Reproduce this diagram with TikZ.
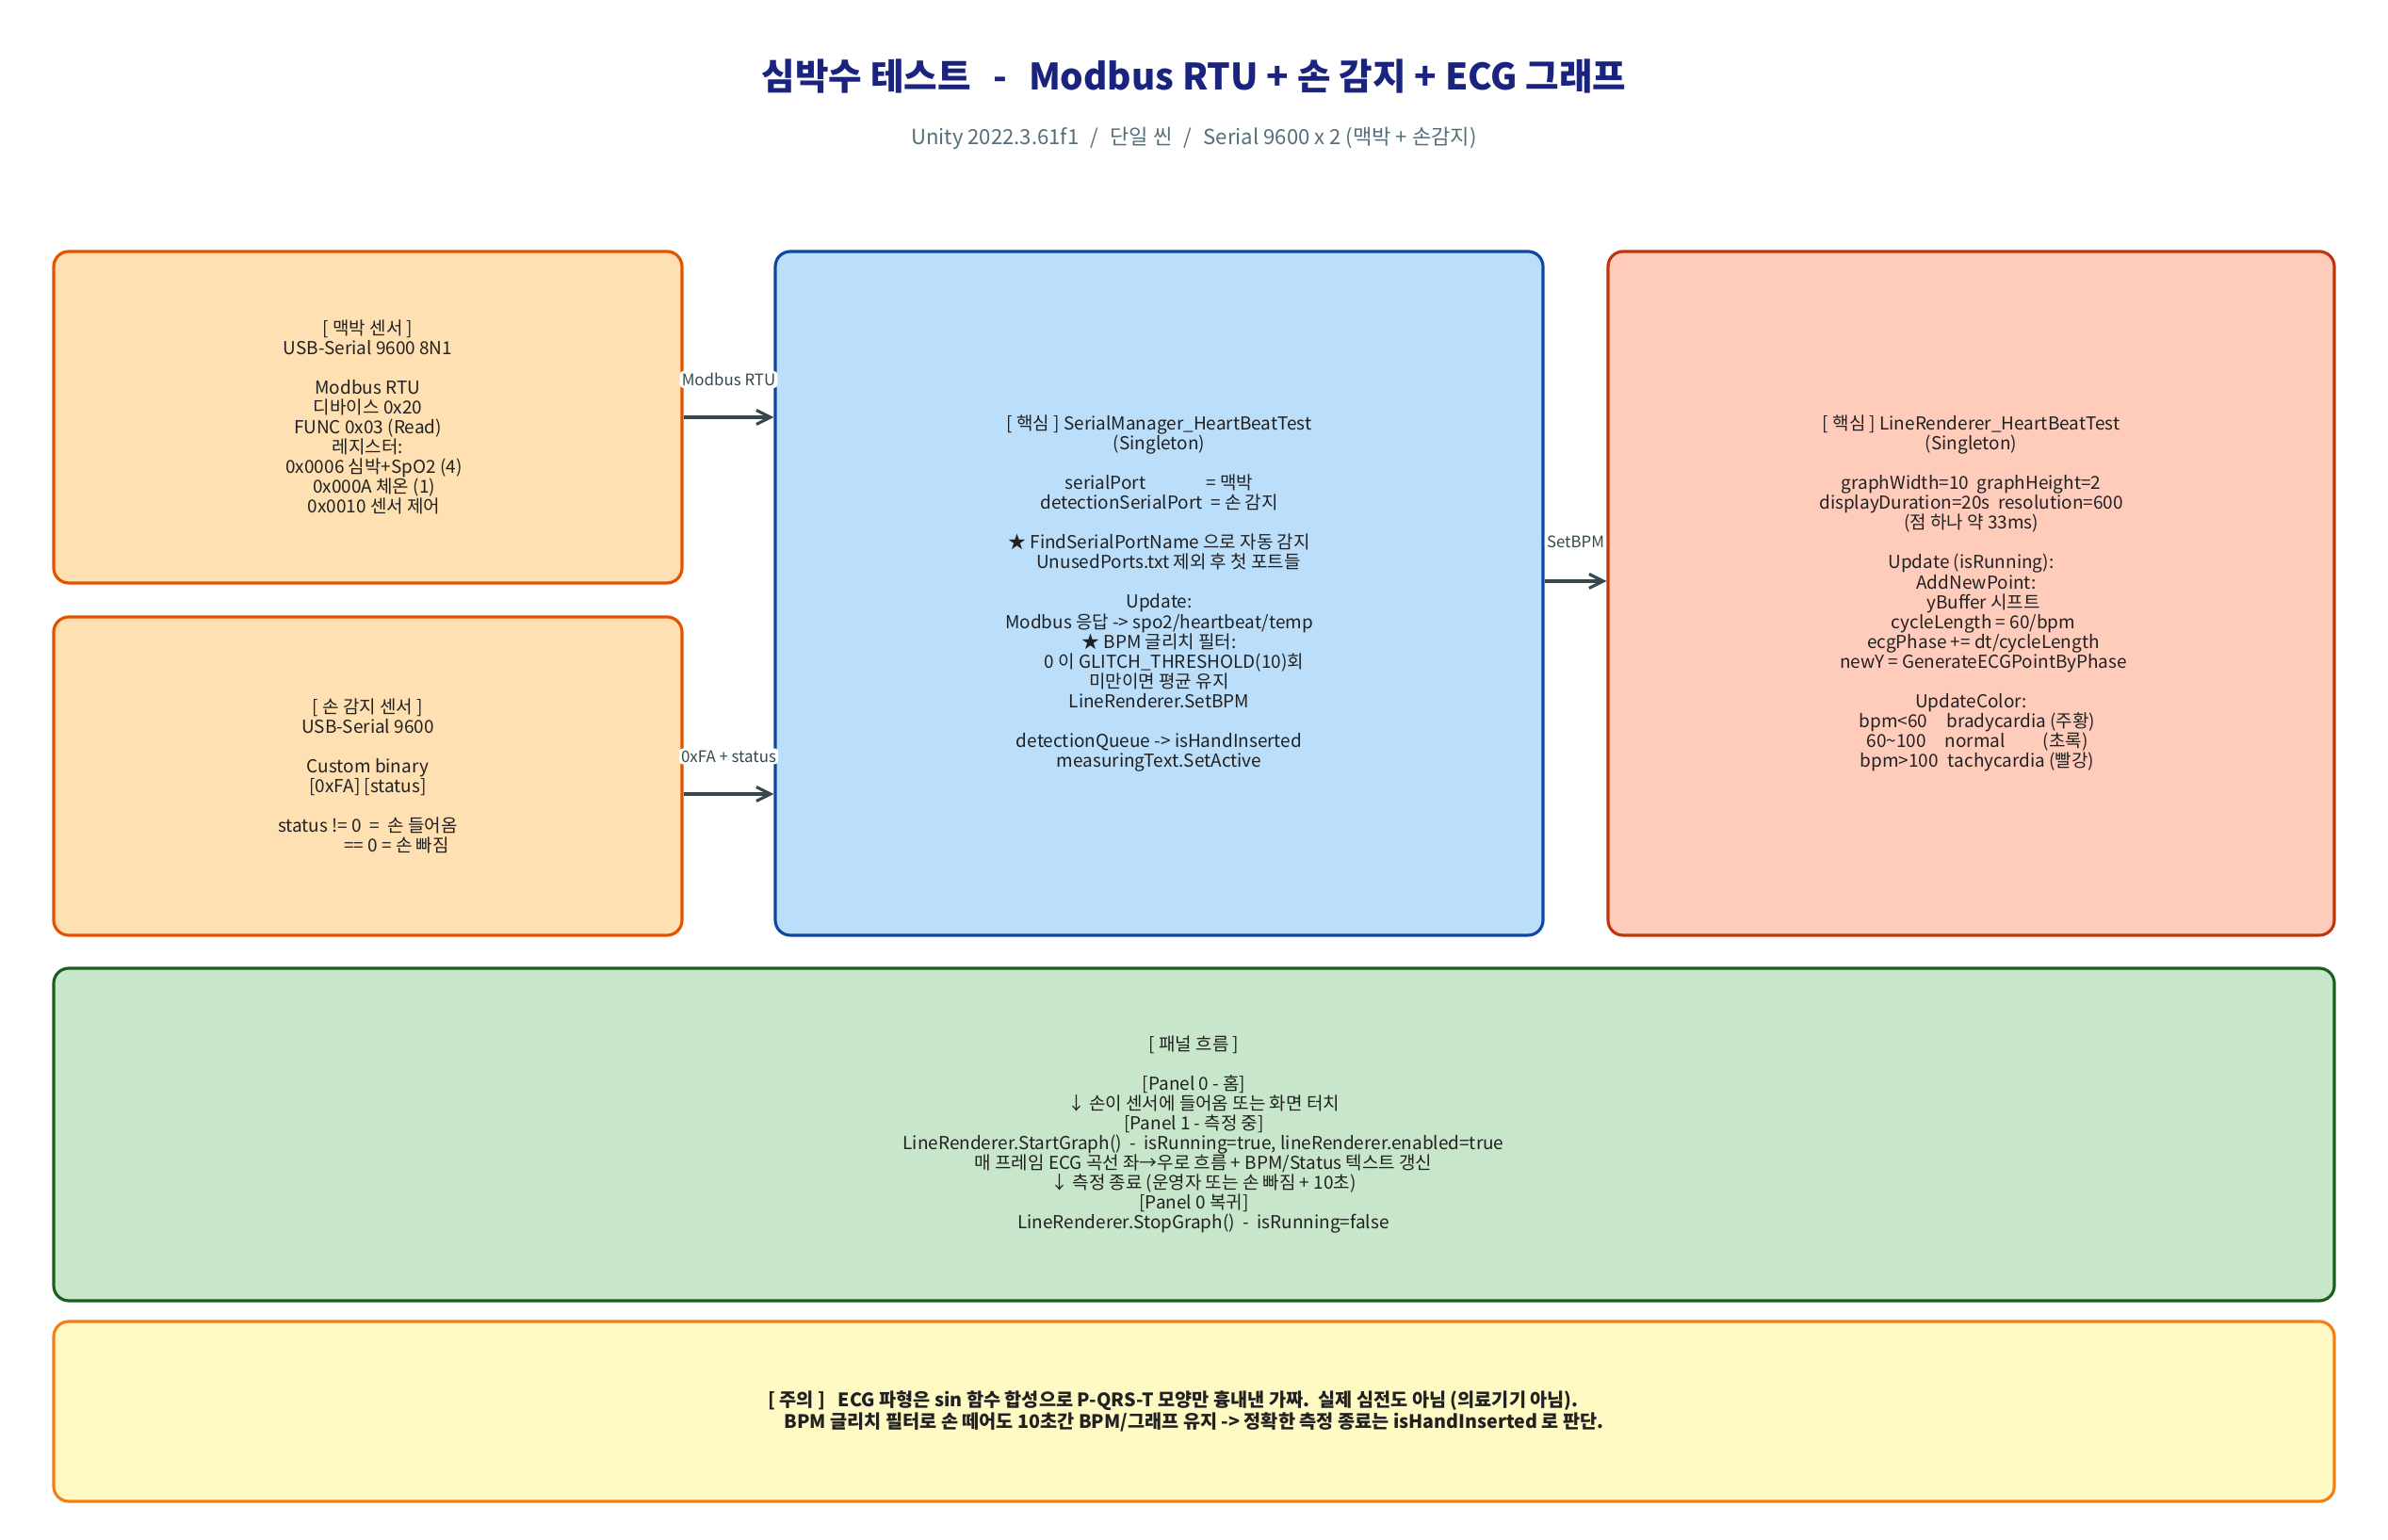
\documentclass[tikz,border=0pt]{standalone}
\usepackage{fontspec}
\setmainfont{Noto Sans CJK KR}
\usetikzlibrary{arrows.meta, positioning}

\definecolor{titleblue}{HTML}{1A237E}
\definecolor{subgray}{HTML}{546E7A}
\definecolor{textdark}{HTML}{212121}
\definecolor{arrowgray}{HTML}{37474F}
\definecolor{sensorfill}{HTML}{FFE0B2}
\definecolor{sensordraw}{HTML}{E65100}
\definecolor{corefill}{HTML}{BBDEFB}
\definecolor{coredraw}{HTML}{0D47A1}
\definecolor{graphfill}{HTML}{FFCCBC}
\definecolor{graphdraw}{HTML}{BF360C}
\definecolor{flowfill}{HTML}{C8E6C9}
\definecolor{flowdraw}{HTML}{1B5E20}
\definecolor{notefill}{HTML}{FFF9C4}
\definecolor{notedraw}{HTML}{F57F17}

\tikzset{>={Straight Barb[length=1.5mm,width=1.5mm]}}
\tikzset{font=\fontsize{5.4}{6}\selectfont}
\tikzset{
  panel/.style={draw, rounded corners=0.16cm, line width=0.9pt,
    align=center, text=textdark, inner sep=0pt},
  sensorbox/.style={panel, fill=sensorfill, draw=sensordraw},
  corebox/.style={panel, fill=corefill, draw=coredraw},
  graphbox/.style={panel, fill=graphfill, draw=graphdraw},
  flowbox/.style={panel, fill=flowfill, draw=flowdraw},
  notebox/.style={panel, fill=notefill, draw=notedraw,
    font=\fontsize{5.6}{6.4}\selectfont\bfseries},
  flowarrow/.style={->, line width=0.9pt, draw=arrowgray},
  edgelabel/.style={fill=white, text=arrowgray, inner sep=0.6pt,
    rounded corners=1pt, font=\fontsize{4.8}{5.5}\selectfont}
}

\begin{document}
\begin{tikzpicture}
  \useasboundingbox (0,0) rectangle (25.35,16.35);

  % title
  \node[text=titleblue, font=\fontsize{11}{13}\selectfont\bfseries] (title) at (12.675,15.54)
    {심박수 테스트\hspace{0.6em}-\hspace{0.6em}Modbus RTU + 손 감지 + ECG 그래프};
  \node[text=subgray, font=\fontsize{6.3}{7.5}\selectfont] (subtitle) at (12.675,14.88)
    {Unity 2022.3.61f1\hspace{0.55em}/\hspace{0.55em}단일 씬\hspace{0.55em}/\hspace{0.55em}Serial 9600 x 2 (맥박 + 손감지)};

  % sensors
  \node[sensorbox, minimum width=6.67cm, minimum height=3.52cm] (pulse) at (3.905,11.92) {%
    [ 맥박 센서 ]\\
    USB-Serial 9600 8N1\\[6pt]
    Modbus RTU\\
    디바이스 0x20\\
    FUNC 0x03 (Read)\\
    레지스터:\\
    \hspace*{0.13cm}0x0006 심박+SpO2 (4)\\
    \hspace*{0.13cm}0x000A 체온 (1)\\
    \hspace*{0.13cm}0x0010 센서 제어};
  \node[sensorbox, minimum width=6.67cm, minimum height=3.38cm] (hand) at (3.905,8.11) {%
    [ 손 감지 센서 ]\\
    USB-Serial 9600\\[6pt]
    Custom binary\\
    {[0xFA] [status]}\\[6pt]
    status != 0\ \ =\ \ 손 들어옴\\
    \hspace*{0.61cm}== 0 = 손 빠짐};

  % core
  \node[corebox, minimum width=8.15cm, minimum height=7.26cm] (core) at (12.305,10.05) {%
    [ 핵심 ] SerialManager\_HeartBeatTest\\
    (Singleton)\\[6pt]
    serialPort\hspace{0.6cm} = 맥박\\
    detectionSerialPort\ \ = 손 감지\\[6pt]
    ★ FindSerialPortName 으로 자동 감지\\
    \hspace*{0.2cm}UnusedPorts.txt 제외 후 첫 포트들\\[6pt]
    Update:\\
    Modbus 응답 -> spo2/heartbeat/temp\\
    ★ BPM 글리치 필터:\\
    \hspace*{0.32cm}0 이 GLITCH\_THRESHOLD(10)회\\
    미만이면 평균 유지\\
    LineRenderer.SetBPM\\[6pt]
    detectionQueue -> isHandInserted\\
    measuringText.SetActive};

  % graph
  \node[graphbox, minimum width=7.71cm, minimum height=7.26cm] (graph) at (20.925,10.05) {%
    [ 핵심 ] LineRenderer\_HeartBeatTest\\
    (Singleton)\\[6pt]
    graphWidth=10\ \ graphHeight=2\\
    displayDuration=20s\ \ resolution=600\\
    (점 하나 약 33ms)\\[6pt]
    Update (isRunning):\\
    \hspace*{0.11cm}AddNewPoint:\\
    \hspace*{0.26cm}yBuffer 시프트\\
    \hspace*{0.26cm}cycleLength = 60/bpm\\
    \hspace*{0.26cm}ecgPhase += dt/cycleLength\\
    \hspace*{0.26cm}newY = GenerateECGPointByPhase\\[6pt]
    UpdateColor:\\
    \hspace*{0.13cm}bpm<60\hspace{0.2cm}bradycardia (주황)\\
    \hspace*{0.13cm}60\textasciitilde100\hspace{0.2cm}normal\hspace{0.4cm}(초록)\\
    \hspace*{0.13cm}bpm>100\hspace{0.1cm}tachycardia (빨강)};

  % panel flow
  \node[flowbox, minimum width=24.21cm, minimum height=3.53cm] (flow) at (12.675,4.305) {%
    [ 패널 흐름 ]\\[6pt]
    {[Panel 0 - 홈]}\\
    \hspace*{0.2cm}↓ 손이 센서에 들어옴 또는 화면 터치\\
    {[Panel 1 - 측정 중]}\\
    \hspace*{0.2cm}LineRenderer.StartGraph()\ \ -\ \ isRunning=true, lineRenderer.enabled=true\\
    \hspace*{0.2cm}매 프레임 ECG 곡선 좌→우로 흐름 + BPM/Status 텍스트 갱신\\
    \hspace*{0.2cm}↓ 측정 종료 (운영자 또는 손 빠짐 + 10초)\\
    {[Panel 0 복귀]}\\
    \hspace*{0.2cm}LineRenderer.StopGraph()\ \ -\ \ isRunning=false};

  % note
  \node[notebox, minimum width=24.21cm, minimum height=1.91cm] (note) at (12.675,1.365) {%
    [ 주의 ]\ \ \ ECG 파형은 sin 함수 합성으로 P-QRS-T 모양만 흉내낸 가짜.\ \ 실제 심전도 아님 (의료기기 아님).\hspace*{0.44cm}\\
    BPM 글리치 필터로 손 떼어도 10초간 BPM/그래프 유지 -> 정확한 측정 종료는 isHandInserted 로 판단.};

  % connectors
  \draw[flowarrow] (pulse.east) -- (pulse.east -| core.west)
    node[edgelabel, midway, yshift=0.4cm] {Modbus RTU};
  \draw[flowarrow] ([yshift=-0.19cm]hand.east) -- ([yshift=-0.19cm]hand.east -| core.west)
    node[edgelabel, midway, yshift=0.4cm] {0xFA + status};
  \draw[flowarrow] ([yshift=0.13cm]core.east) -- ([yshift=0.13cm]core.east -| graph.west)
    node[edgelabel, midway, yshift=0.42cm] {SetBPM};
\end{tikzpicture}
\end{document}
